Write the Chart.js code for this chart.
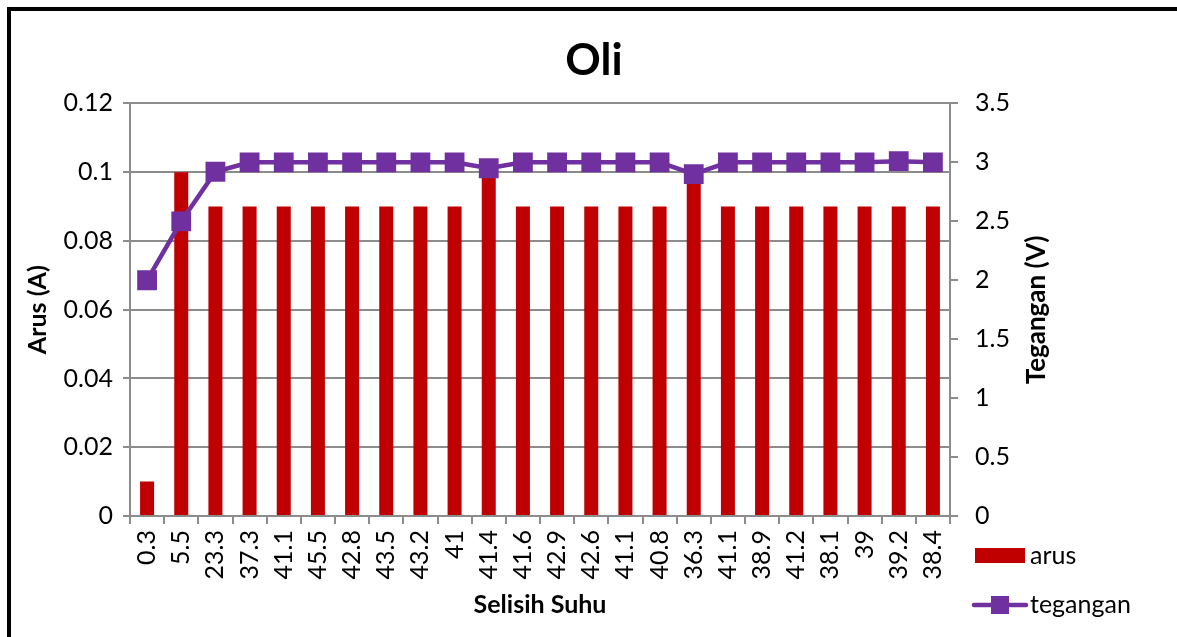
<!DOCTYPE html>
<html>
<head>
<meta charset="utf-8">
<script src="https://cdn.jsdelivr.net/npm/chart.js@4.4.1/dist/chart.umd.min.js"></script>
<style>
  html, body { margin: 0; padding: 0; background: #fff; }
  #wrap { position: relative; width: 1177px; height: 637px; overflow: hidden; }
  #frame { position: absolute; left: 7px; top: 7px; width: 1400px; height: 800px;
           border-top: 4px solid #000; border-left: 4px solid #000; pointer-events: none; }
  canvas { position: absolute; left: 0; top: 0; }
</style>
</head>
<body>
<div id="wrap">
  <canvas id="c" width="1177" height="637"></canvas>
  <div id="frame"></div>
</div>
<script>
// Temperature difference categories (Selisih Suhu)
const categories = ['0.3','5.5','23.3','37.3','41.1','45.5','42.8','43.5','43.2','41','41.4','41.6',
                    '42.9','42.6','41.1','40.8','36.3','41.1','38.9','41.2','38.1','39','39.2','38.4'];
// Current (A)
const arus = [0.01,0.1,0.09,0.09,0.09,0.09,0.09,0.09,0.09,0.09,0.1,0.09,
              0.09,0.09,0.09,0.09,0.1,0.09,0.09,0.09,0.09,0.09,0.09,0.09];
// Voltage (V)
const tegangan = [2,2.5,2.92,3,3,3,3,3,3,3,2.95,3,
                  3,3,3,3,2.9,3,3,3,3,3,3.01,3];

const FONT = 'Lato, "Open Sans", sans-serif';
const RED = '#C00000';
const PURPLE = '#7030A0';
const GRID = '#8c8c8c';

// Plain number labels without trailing zeros (0.1, 3, 2.5 ...)
const plain = v => String(Number(Number(v).toFixed(4)));

// Right axis title (reads bottom-to-top) and the legend at the lower right
const extras = {
  id: 'extras',
  afterDraw(chart) {
    const ctx = chart.ctx;
    ctx.save();
    ctx.fillStyle = '#000';
    ctx.font = 'bold 26px ' + FONT;
    ctx.textAlign = 'center';
    ctx.textBaseline = 'middle';
    ctx.translate(1037, 310);
    ctx.rotate(-Math.PI / 2);
    ctx.fillText('Tegangan (V)', 0, 0);
    ctx.restore();

    const ds = chart.data.datasets;
    ctx.save();
    ctx.font = '25px ' + FONT;
    ctx.textBaseline = 'middle';
    ctx.textAlign = 'left';
    // bar entry
    ctx.fillStyle = ds[0].backgroundColor;
    ctx.fillRect(975, 548, 50, 15);
    ctx.fillStyle = '#000';
    ctx.fillText(ds[0].label, 1030, 556);
    // line entry
    ctx.strokeStyle = ds[1].borderColor;
    ctx.lineWidth = 4.5;
    ctx.lineCap = 'round';
    ctx.beginPath();
    ctx.moveTo(974, 605);
    ctx.lineTo(1026, 605);
    ctx.stroke();
    ctx.fillStyle = ds[1].pointBackgroundColor;
    ctx.fillRect(991, 596, 18, 18);
    ctx.fillStyle = '#000';
    ctx.fillText(ds[1].label, 1030, 605);
    ctx.restore();
  }
};

new Chart(document.getElementById('c'), {
  type: 'bar',
  data: {
    labels: categories,
    datasets: [
      {
        type: 'bar',
        label: 'arus',
        data: arus,
        yAxisID: 'y',
        backgroundColor: RED,
        barPercentage: 0.41,
        categoryPercentage: 1,
        order: 2
      },
      {
        type: 'line',
        label: 'tegangan',
        data: tegangan,
        yAxisID: 'y1',
        borderColor: PURPLE,
        borderWidth: 4.5,
        pointStyle: 'rect',
        pointRadius: 14,
        pointBackgroundColor: PURPLE,
        pointBorderColor: PURPLE,
        pointBorderWidth: 0,
        tension: 0,
        order: 1
      }
    ]
  },
  options: {
    responsive: false,
    animation: false,
    events: [],
    layout: { padding: { top: 12, left: 12, right: 1, bottom: 14 } },
    plugins: {
      legend: { display: false },
      tooltip: { enabled: false },
      title: {
        display: true,
        text: 'Oli',
        color: '#000',
        font: { family: FONT, size: 44, weight: 'bold', lineHeight: 1.2 },
        padding: { top: 22, bottom: 16.6 }
      }
    },
    scales: {
      x: {
        type: 'category',
        offset: true,
        grid: { offset: true, drawOnChartArea: false, drawTicks: true, tickLength: 8, color: GRID, lineWidth: 2 },
        border: { display: true, color: GRID, width: 2 },
        ticks: { minRotation: 90, maxRotation: 90, autoSkip: false, padding: 6, color: '#000',
                 font: { family: FONT, size: 25 } },
        title: { display: true, text: 'Selisih Suhu', color: '#000',
                 font: { family: FONT, size: 25, weight: 'bold', lineHeight: 1.2 },
                 padding: { top: 4, bottom: 3 } },
        afterFit(s) { s.height = 637 - 14 - 516; }
      },
      y: {
        position: 'left',
        min: 0, max: 0.12,
        grid: { color: GRID, lineWidth: 2, tickLength: 7, drawTicks: true },
        border: { display: true, color: GRID, width: 2 },
        ticks: { stepSize: 0.02, padding: 10, color: '#000', font: { family: FONT, size: 25 },
                 callback: plain },
        title: { display: true, text: 'Arus (A)', color: '#000',
                 font: { family: FONT, size: 25, weight: 'bold', lineHeight: 1.2 },
                 padding: { top: 11, bottom: 4 } },
        afterFit(s) { s.width = 130 - 12; }
      },
      y1: {
        position: 'right',
        min: 0, max: 3.5,
        grid: { drawOnChartArea: false, color: GRID, lineWidth: 2, tickLength: 8, drawTicks: true },
        border: { display: true, color: GRID, width: 2 },
        ticks: { stepSize: 0.5, padding: 17, color: '#000', font: { family: FONT, size: 25 },
                 callback: plain },
        title: { display: false },
        afterFit(s) { s.width = 1176 - 950; }
      }
    }
  },
  plugins: [extras]
});
</script>
</body>
</html>
